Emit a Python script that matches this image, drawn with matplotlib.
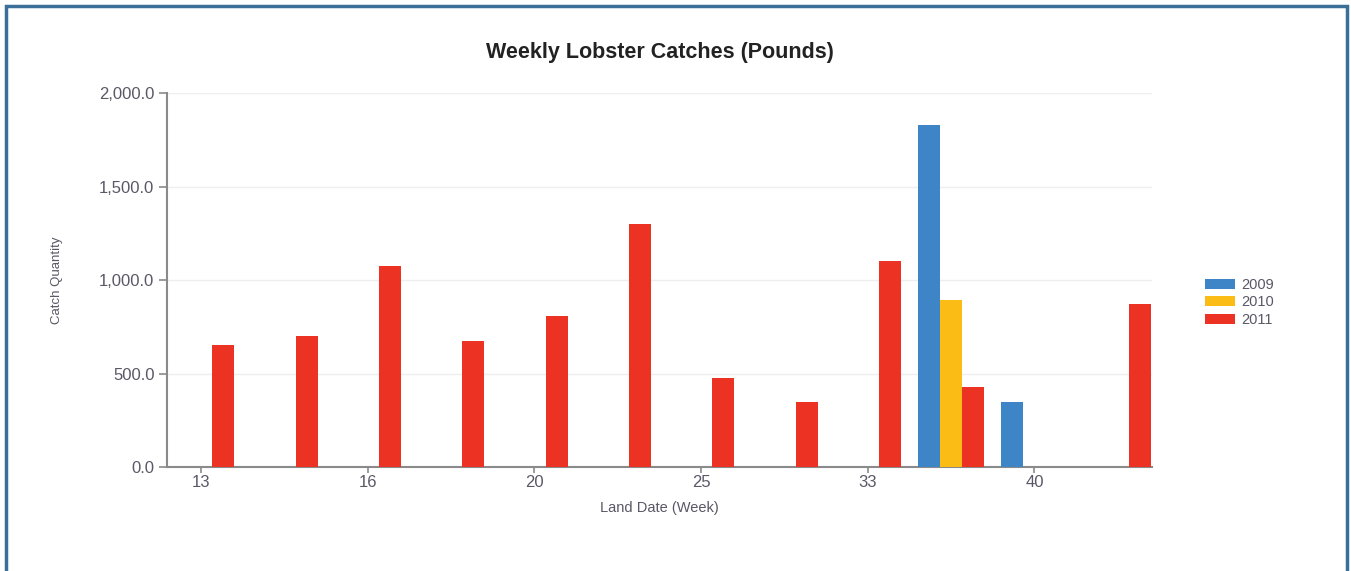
import numpy as np
import matplotlib.pyplot as plt
from matplotlib.patches import Rectangle

plt.rcParams['font.family'] = ['Liberation Sans', 'DejaVu Sans']

# weekly groups; only every other group carries a label on the chart
week_labels = ['13', '', '16', '', '20', '', '25', '', '33', '', '40', '']
years = ['2009', '2010', '2011']
catch_2009 = [0, 0, 0, 0, 0, 0, 0, 0, 0, 1829, 350, 0]
catch_2010 = [0, 0, 0, 0, 0, 0, 0, 0, 0, 893, 0, 0]
catch_2011 = [652, 700, 1075, 674, 808, 1300, 476, 348, 1102, 428, 0, 872]
colors = ['#3d85c6', '#fbbc16', '#ec3323']

fig = plt.figure(figsize=(13.51, 5.71), dpi=100)
ax = fig.add_axes([0.1236, 0.1821, 0.7291, 0.655])

x = np.arange(len(week_labels))
w = 0.265
for i, (vals, yr) in enumerate(zip([catch_2009, catch_2010, catch_2011], years)):
    ax.bar(x + (i - 1) * w, vals, width=w, color=colors[i], label=yr, zorder=3)

ax.set_xlim(-0.41, len(week_labels) - 1 + 0.41)
ax.set_ylim(0, 2000)
ax.set_yticks([0, 500, 1000, 1500, 2000])
ax.set_yticklabels([f'{v:,.1f}' for v in [0, 500, 1000, 1500, 2000]])
shown = [i for i, l in enumerate(week_labels) if l]
ax.set_xticks(shown)
ax.set_xticklabels([week_labels[i] for i in shown])

ax.grid(axis='y', color='#eeeeee', linewidth=1, zorder=0)
for s in ['top', 'right']:
    ax.spines[s].set_visible(False)
for s in ['left', 'bottom']:
    ax.spines[s].set_color('#8a8a8a')
    ax.spines[s].set_linewidth(1.5)
ax.tick_params(axis='y', colors='#8a8a8a', labelcolor='#5a5866', labelsize=12, length=6, width=1.2, pad=3)
ax.tick_params(axis='x', colors='#8a8a8a', labelcolor='#5a5866', labelsize=12, length=4, width=1.2, pad=2)

ax.set_title('Weekly Lobster Catches (Pounds)', fontsize=15.5, fontweight='bold', color='#222222', pad=25)
ax.set_xlabel('Land Date (Week)', fontsize=10.5, color='#5a5866', labelpad=8)
ax.set_ylabel('Catch Quantity', fontsize=9.5, color='#5a5866', labelpad=26)

leg = ax.legend(loc='center left', bbox_to_anchor=(1.040, 0.44), frameon=False,
                fontsize=10.5, handlelength=2.1, handleheight=0.7, labelspacing=0.25,
                handletextpad=0.4)
for t in leg.get_texts():
    t.set_color('#5a5866')

# blue frame around the picture
fig.patches.append(Rectangle((0.0045, -0.05), 0.9925, 1.04, transform=fig.transFigure,
                             fill=False, edgecolor='#3a6f9a', linewidth=2.5))

fig.savefig('out.png', dpi=100)
